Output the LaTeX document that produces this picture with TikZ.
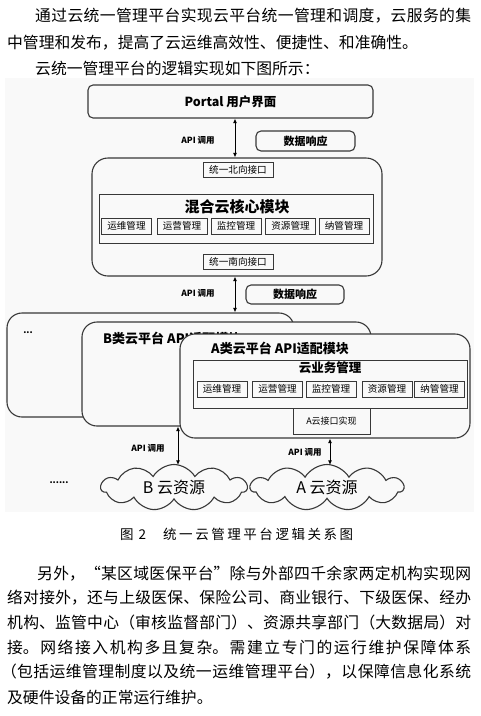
\documentclass[tikz,border=0pt]{standalone}
\usepackage{fontspec}
\setmainfont{Noto Sans CJK SC}
\newfontfamily\hei{Noto Sans CJK SC}
\usetikzlibrary{arrows.meta,shapes.symbols}
\XeTeXlinebreaklocale "zh"
\XeTeXlinebreakskip=0pt plus 2pt
\definecolor{bg}{gray}{0.975}
\definecolor{ink}{gray}{0.22}
\newcommand\fs[1]{\fontsize{#1}{#1}\selectfont}
\newcommand\jline[5]{\node[anchor=base west, inner sep=0pt, text width=#4pt, align=justify, font=\fs{15.8}] (#1) at (#2,#3) {\noindent\parfillskip=0pt\relax #5\par};}
\newcommand\pline[4]{\node[anchor=base west, inner sep=0pt, font=\fs{15.8}] (#1) at (#2,#3) {#4};}
\tikzset{
  ln/.style={draw=ink, line width=1.1pt},
  rbox/.style={ln, fill=bg, rounded corners=5pt, inner sep=0pt},
  bigr/.style={ln, fill=bg, rounded corners=16pt, inner sep=0pt},
  sqbox/.style={draw=ink, line width=1pt, fill=bg, inner sep=0pt},
  sub/.style={sqbox, minimum width=50pt, minimum height=16pt, font=\hei\fs{9.6}},
  lbl/.style={font=\hei\bfseries\fs{8.5}, inner sep=0pt},
  dbl/.style={draw=black, line width=0.9pt, {Latex[length=4.5pt,width=4pt]}-{Latex[length=4.5pt,width=4pt]}},
  cl/.style={cloud, draw=ink, line width=1.1pt, fill=bg, cloud puffs=11, cloud puff arc=120, inner sep=0pt, font=\fs{16}}
}
\begin{document}
\begin{tikzpicture}[x=1pt,y=-1pt]
\useasboundingbox (0,0) rectangle (481,716);
\fill[bg] (5,78) rectangle (474,512);
% top text
\jline{t1}{35}{21}{436}{通过云统一管理平台实现云平台统一管理和调度，云服务的集}
\pline{t2}{7}{48}{中管理和发布，提高了云运维高效性、便捷性、和准确性。}
\pline{t3}{35}{74}{云统一管理平台的逻辑实现如下图所示：}
% portal
\node[rbox, minimum width=285pt, minimum height=33pt] (portal) at (230.5,101.5) {};
\node[font=\hei\bfseries\fs{12.5}, inner sep=0pt] (portalt) at (portal.center) {Portal 用户界面};
\node[rbox, minimum width=99pt, minimum height=20pt, font=\hei\bfseries\fs{11}] (resp1) at (305.5,141) {数据响应};
% core
\node[bigr, minimum width=290pt, minimum height=118pt] (core) at (237,217) {};
\node[sqbox, minimum width=70pt, minimum height=15pt, font=\hei\fs{9.6}] (north) at (238,169.5) {统一北向接口};
\node[sqbox, minimum width=274pt, minimum height=49pt] (coremod) at (236,218.5) {};
\node[font=\hei\bfseries\fs{15}, inner sep=0pt] (coret) at (237,207) {混合云核心模块};
\node[sub] (c1) at (126.5,226) {运维管理};
\node[sub] (c2) at (182,226) {运营管理};
\node[sub] (c3) at (236,226) {监控管理};
\node[sub] (c4) at (290.5,226) {资源管理};
\node[sub] (c5) at (344,226) {纳管管理};
\node[sqbox, minimum width=70pt, minimum height=15pt, font=\hei\fs{9.6}] (south) at (238,261.5) {统一南向接口};
\node[rbox, minimum width=98pt, minimum height=19pt, font=\hei\bfseries\fs{11}] (resp2) at (295,294.5) {数据响应};
% stacked adapters
\node[bigr, rounded corners=15pt, minimum width=287pt, minimum height=104pt] (back) at (150.5,365) {};
\node[font=\hei\bfseries\fs{9}, inner sep=0pt] (dots1) at (28,333) {...};
\node[bigr, rounded corners=15pt, minimum width=289pt, minimum height=104pt] (bbox) at (226.5,374) {};
\node[anchor=west, font=\hei\bfseries\fs{13}, inner sep=0pt] (bt) at (103,338) {B类云平台 API适配模块};
\node[bigr, rounded corners=15pt, minimum width=290pt, minimum height=104pt] (abox) at (325,386) {};
\node[anchor=west, font=\hei\bfseries\fs{13}, inner sep=0pt] (at) at (211,348) {A类云平台 API适配模块};
\node[sqbox, minimum width=274pt, minimum height=48pt] (cmgmt) at (330,384) {};
\node[font=\hei\bfseries\fs{12.5}, inner sep=0pt] (cmt) at (330,368) {云业务管理};
\node[sub] (a1) at (222,389) {运维管理};
\node[sub] (a2) at (277.5,389) {运营管理};
\node[sub] (a3) at (331,389) {监控管理};
\node[sub] (a4) at (387,389) {资源管理};
\node[sub] (a5) at (439.5,389) {纳管管理};
\node[sqbox, minimum width=77pt, minimum height=26pt, font=\hei\fs{9}] (aimpl) at (331.5,421) {A云接口实现};
% clouds
\node[cl, aspect=3.3, minimum width=146pt, minimum height=46pt] (bcloud) at (174,487.5) {B 云资源};
\node[cl, aspect=3.4, minimum width=153pt, minimum height=46pt] (acloud) at (327,487.5) {A 云资源};
\node[font=\hei\bfseries\fs{9}, inner sep=0pt] (dots2) at (59,483) {......};
% arrows
\draw[dbl] (portal.south -| 235,0) -- (core.north -| 235,0);
\draw[dbl] (core.south -| 235,0) -- (back.north -| 235,0);
\draw[dbl] (bbox.south -| 178,0) -- ([yshift=-1pt]bcloud.north -| 178,0);
\draw[dbl] (abox.south -| 330,0) -- ([yshift=-1pt]acloud.north -| 330,0);
\node[lbl] (l1) at (198,140) {API 调用};
\node[lbl] (l2) at (198,293) {API 调用};
\node[lbl] (l3) at (148,448) {API 调用};
\node[lbl] (l4) at (305,452) {API 调用};
% caption
\node[anchor=base west, inner sep=0pt, font=\fs{13.5}] (cap1) at (120,539) {图\hspace{5pt}2};
\node[anchor=base west, inner sep=0pt, text width=190pt, align=justify, font=\fs{13.5}] (cap2) at (163,539) {\noindent\parfillskip=0pt\relax 统一云管理平台逻辑关系图\par};
% bottom text
\jline{b1}{37}{579}{434}{另外，“某区域医保平台”除与外部四千余家两定机构实现网}
\jline{b2}{7}{603}{464}{络对接外，还与上级医保、保险公司、商业银行、下级医保、经办}
\jline{b3}{7}{628}{464}{机构、监管中心（审核监督部门）、资源共享部门（大数据局）对}
\jline{b4}{7}{653}{464}{接。网络接入机构多且复杂。需建立专门的运行维护保障体系}
\jline{b5}{1}{677}{470}{（包括运维管理制度以及统一运维管理平台），以保障信息化系统}
\pline{b6}{7}{703}{及硬件设备的正常运行维护。}
\end{tikzpicture}
\end{document}
